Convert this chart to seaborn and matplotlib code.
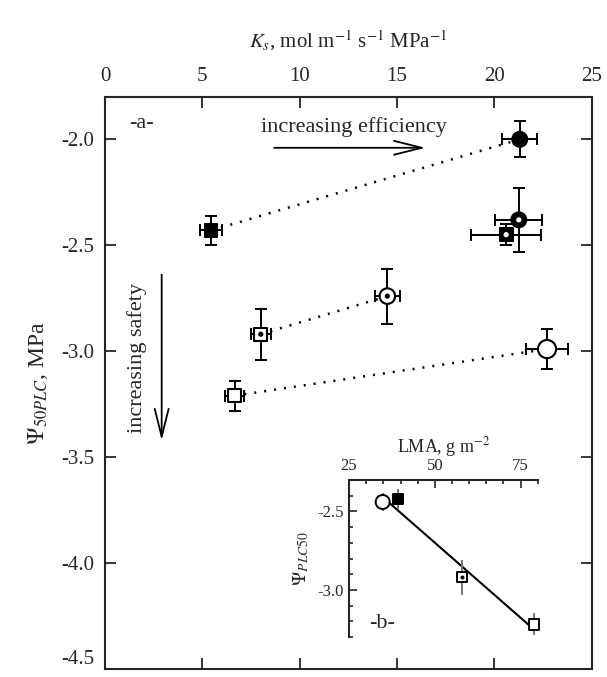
import matplotlib.pyplot as plt
import pandas as pd
import seaborn as sns

# panel a: Ks vs P50
ks = [21.3, 5.45, 21.25, 20.6, 14.5, 8.0, 6.65, 22.7]
ks_err = [0.9, 0.55, 1.2, 1.8, 0.65, 0.5, 0.5, 1.1]
psi50 = [-2.0, -2.43, -2.38, -2.45, -2.74, -2.92, -3.21, -2.99]
psi50_err = [0.085, 0.07, 0.15, 0.05, 0.13, 0.12, 0.07, 0.095]
kind = ['fc', 'fs', 'rc', 'ds', 'bc', 'bs', 'os', 'oc']
pairs = [('fs', 'fc'), ('bs', 'bc'), ('os', 'oc')]

# panel b: LMA vs P50
lma = [34.8, 39.2, 57.8, 78.8]
lma_err = [1.3, 0.0, 0.0, 0.0]
psi_b = [-2.44, -2.42, -2.92, -3.22]
psi_b_err = [0.055, 0.065, 0.11, 0.07]
kind_b = ['oc', 'fs', 'bs', 'os']

# marker, face colour, size, centre dot colour
styles = {
    'fc': ('o', 'black', 115, None),
    'fs': ('s', 'black', 80, None),
    'rc': ('o', 'black', 115, 'white'),
    'ds': ('s', 'black', 90, 'white'),
    'bc': ('o', 'white', 125, 'black'),
    'bs': ('s', 'white', 85, 'black'),
    'os': ('s', 'white', 90, None),
    'oc': ('o', 'white', 170, None),
}

df = pd.DataFrame({'ks': ks, 'psi': psi50, 'kind': kind})
dfb = pd.DataFrame({'lma': lma, 'psi': psi_b, 'kind': kind_b})

sns.set_style('ticks')
plt.rcParams['font.family'] = ['Liberation Serif', 'DejaVu Serif']
plt.rcParams['mathtext.fontset'] = 'stix'
plt.rcParams['axes.linewidth'] = 1.5


def draw_points(ax, data, x, scale=1.0, lw=1.5):
    levels = list(dict.fromkeys(data['kind']))
    sns.scatterplot(data=data, x=x, y='psi', hue='kind', style='kind', size='kind',
                    palette={k: styles[k][1] for k in levels},
                    markers={k: styles[k][0] for k in levels},
                    sizes={k: styles[k][2] * scale for k in levels},
                    edgecolor='black', linewidth=lw, legend=False, zorder=4,
                    clip_on=False, ax=ax)
    dots = data[data['kind'].map(lambda k: styles[k][3] is not None)]
    if len(dots):
        sns.scatterplot(data=dots, x=x, y='psi', hue='kind',
                        palette={k: styles[k][3] for k in dots['kind']},
                        s=14 * scale, linewidth=0, legend=False, zorder=5,
                        clip_on=False, ax=ax)


fig = plt.figure(figsize=(6.07, 6.77), dpi=100)
ax = fig.add_axes([0.173, 0.0118, 0.802, 0.845])

for a, b in pairs:
    ra = df[df['kind'] == a].iloc[0]
    rb = df[df['kind'] == b].iloc[0]
    ax.plot([ra['ks'], rb['ks']], [ra['psi'], rb['psi']], color='black',
            lw=1.8, linestyle=(0, (0.8, 3.2)), zorder=1)

ax.errorbar(ks, psi50, xerr=ks_err, yerr=psi50_err, fmt='none', ecolor='black',
            elinewidth=1.4, capsize=4.5, capthick=1.4, zorder=3)
draw_points(ax, df, 'ks')

ax.set_xlim(0, 25)
ax.set_ylim(-4.5, -1.8)
ax.set_xticks([0, 5, 10, 15, 20, 25])
ax.set_yticks([-2.0, -2.5, -3.0, -3.5, -4.0, -4.5])
ax.set_yticklabels(['-2.0', '-2.5', '-3.0', '-3.5', '-4.0', '-4.5'])
ax.xaxis.tick_top()
ax.tick_params(direction='in', top=True, bottom=True, left=True, right=True,
               labeltop=True, labelbottom=False, length=8, width=1.3,
               labelsize=15, pad=8)
ax.get_yticklabels()[-1].set_va('bottom')
ax.xaxis.set_label_position('top')
ax.set_xlabel(r'$K_s$, mol m$^{-1}$ s$^{-1}$ MPa$^{-1}$', fontsize=15, labelpad=14)
ax.set_ylabel(r'$\Psi_{\mathit{50PLC}}$, MPa', fontsize=17, labelpad=8)

ax.text(1.88, -1.926, '-a-', fontsize=16, ha='center', va='center')
ax.text(12.8, -1.943, 'increasing efficiency', fontsize=16, ha='center', va='center')
ax.annotate('', xy=(16.6, -2.04), xytext=(8.55, -2.04),
            arrowprops=dict(arrowstyle='->, head_length=1.0, head_width=0.25',
                            mutation_scale=20, lw=1.3, color='black'))
ax.text(1.63, -3.03, 'increasing safety', fontsize=16, rotation=90,
        ha='center', va='center')
ax.annotate('', xy=(2.91, -3.434), xytext=(2.91, -2.626),
            arrowprops=dict(arrowstyle='->, head_length=1.0, head_width=0.25',
                            mutation_scale=20, lw=1.3, color='black'))

# inset panel b
axb = fig.add_axes([0.575, 0.059, 0.311, 0.232])
axb.set_facecolor('white')
sns.regplot(x=lma, y=psi_b, ci=None, scatter=False, truncate=True,
            line_kws=dict(color='black', lw=1.5), ax=axb)
axb.errorbar(lma, psi_b, xerr=lma_err, yerr=psi_b_err, fmt='none',
             ecolor='0.45', elinewidth=1.4, capsize=0, zorder=3)
draw_points(axb, dfb, 'lma', scale=0.6, lw=1.4)
axb.set_xlim(25, 80)
axb.set_ylim(-3.3, -2.3)
axb.set_xticks([25, 50, 75])
axb.set_xticks(range(25, 81, 5), minor=True)
axb.set_yticks([-2.5, -3.0])
axb.set_yticklabels(['-2.5', '-3.0'])
axb.set_yticks([-2.4, -2.6, -2.7, -2.8, -2.9, -3.1, -3.2, -3.3], minor=True)
axb.spines['right'].set_visible(False)
axb.spines['bottom'].set_visible(False)
axb.xaxis.tick_top()
axb.xaxis.set_label_position('top')
axb.tick_params(which='both', direction='in', top=True, bottom=False, left=True,
                right=False, labeltop=True, labelbottom=False, labelsize=12, width=1.2, pad=4)
axb.tick_params(which='major', length=6)
axb.tick_params(which='minor', length=3)
axb.set_xlabel(r'LMA, g m$^{-2}$', fontsize=13, labelpad=4)
axb.set_ylabel(r'$\Psi_{\mathit{PLC50}}$', fontsize=14, labelpad=4)
axb.text(34.6, -3.214, '-b-', fontsize=16, ha='center', va='center')

fig.savefig('out.png', dpi=100)
